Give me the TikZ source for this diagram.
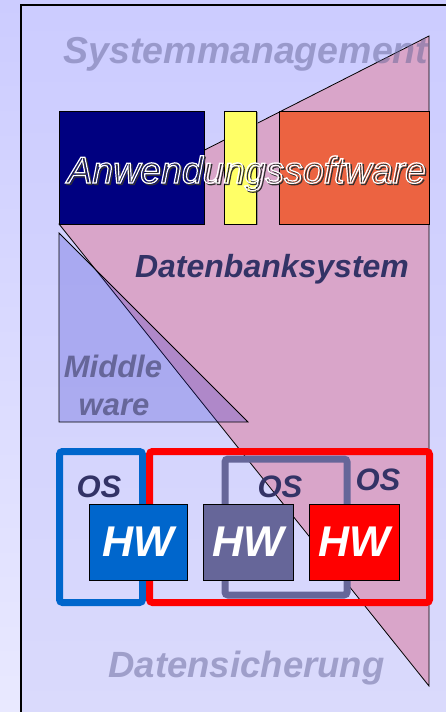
\documentclass[tikz,border=0pt]{standalone}
\usepackage{fontspec}
\setmainfont{Liberation Sans}
\usetikzlibrary{shadows}
\definecolor{bgtop}{RGB}{204,204,255}
\definecolor{bgbot}{RGB}{233,233,255}
\definecolor{intop}{RGB}{204,204,255}
\definecolor{inbot}{RGB}{218,218,252}
\definecolor{pinkc}{RGB}{217,165,201}
\definecolor{mwc}{RGB}{51,51,204}
\definecolor{navyc}{RGB}{0,0,128}
\definecolor{yellowc}{RGB}{255,255,102}
\definecolor{orangec}{RGB}{236,99,65}
\definecolor{hwblue}{RGB}{0,102,204}
\definecolor{hwgray}{RGB}{102,102,153}
\definecolor{hwred}{RGB}{255,0,0}
\definecolor{darktext}{RGB}{51,51,102}
\definecolor{midtext}{RGB}{102,102,153}
\definecolor{shadowc}{RGB}{50,50,50}
\newcommand{\strokedtext}[1]{\special{pdf:literal direct 1.2 w 1 Tr}#1\special{pdf:literal direct 0 Tr}}
\begin{document}
\begin{tikzpicture}[x=1pt,y=-1pt,
  thinline/.style={draw=black,line width=0.8pt},
  appbox/.style={thinline,inner sep=0pt,outer sep=0pt},
  softtext/.style={text=midtext,text opacity=0.5,inner sep=0pt,anchor=base},
  bitext/.style={inner sep=0pt,anchor=base},
  osframe/.style={line width=7pt,rounded corners=3pt,inner sep=0pt,outer sep=0pt},
  hwbox/.style={thinline,inner sep=0pt,outer sep=0pt,minimum height=76pt,text=white,
    font=\fontsize{43}{48}\selectfont\bfseries\itshape},
  ostext/.style={bitext,text=darktext,font=\fontsize{31}{36}\selectfont\bfseries\itshape}]
\useasboundingbox (0,0) rectangle (446,712);
\clip (0,0) rectangle (446,712);
% background
\shade[top color=bgtop,bottom color=bgbot] (0,0) rectangle (446,712);
\shade[top color=intop,bottom color=inbot] (21,5) rectangle (452,716);
\draw[line width=1.3pt] (21,716) -- (21,5) -- (452,5);
% Datenbanksystem triangle
\filldraw[fill=pinkc,thinline] (59,224) -- (429,36) -- (429,686) -- cycle;
% Systemmanagement
\node[softtext,font=\fontsize{37.5}{42}\selectfont\bfseries\itshape] (sysm) at (246,63) {Systemmanagement};
% application boxes
\node[appbox,fill=navyc,minimum width=145pt,minimum height=113pt] (anw1) at (131.5,167.5) {};
\node[appbox,fill=yellowc,minimum width=32pt,minimum height=113pt,
  drop shadow={shadow xshift=2pt,shadow yshift=-1pt,fill=gray,opacity=0.8}] (anw2) at (240,167.5) {};
\node[appbox,fill=orangec,minimum width=150pt,minimum height=113pt] (anw3) at (354,167.5) {};
% outlined text
\node[bitext,text=shadowc,font=\fontsize{37.5}{44}\selectfont\itshape] (anwshadow) at (248,184.5)
  {\strokedtext{Anwendungssoftware}};
\node[bitext,text=white,font=\fontsize{37.5}{44}\selectfont\itshape] (anwtxt) at (246.5,183)
  {\strokedtext{Anwendungssoftware}};
% Datenbanksystem label
\node[bitext,text=darktext,font=\fontsize{32}{36}\selectfont\bfseries\itshape] (dbs) at (272,277) {Datenbanksystem};
% Middleware
\filldraw[fill=mwc,fill opacity=0.25,thinline] (59,233) -- (248,422) -- (59,422) -- cycle;
\node[bitext,text=midtext,font=\fontsize{31}{36}\selectfont\bfseries\itshape] (mw1) at (113,377) {Middle};
\node[bitext,text=midtext,font=\fontsize{31}{36}\selectfont\bfseries\itshape] (mw2) at (114,415) {ware};
% OS frames
\node[osframe,draw=hwblue,minimum width=83pt,minimum height=151pt] (os1) at (101,527) {};
\node[osframe,draw=hwgray,minimum width=122pt,minimum height=136pt] (os2) at (286,527) {};
\node[osframe,draw=hwred,minimum width=280pt,minimum height=151pt] (os3) at (289.5,527) {};
\node[ostext] (os1t) at (99,497) {OS};
\node[ostext] (os2t) at (280,497) {OS};
\node[ostext] (os3t) at (378,490) {OS};
% HW boxes
\node[hwbox,fill=hwblue,minimum width=98pt] (hw1) at (138,542) {HW};
\node[hwbox,fill=hwgray,minimum width=90pt] (hw2) at (248,542) {HW};
\node[hwbox,fill=hwred,minimum width=90pt] (hw3) at (354,542) {HW};
% Datensicherung
\node[softtext,font=\fontsize{36.5}{40}\selectfont\bfseries\itshape] (dsich) at (246.5,677) {Datensicherung};
\end{tikzpicture}
\end{document}
